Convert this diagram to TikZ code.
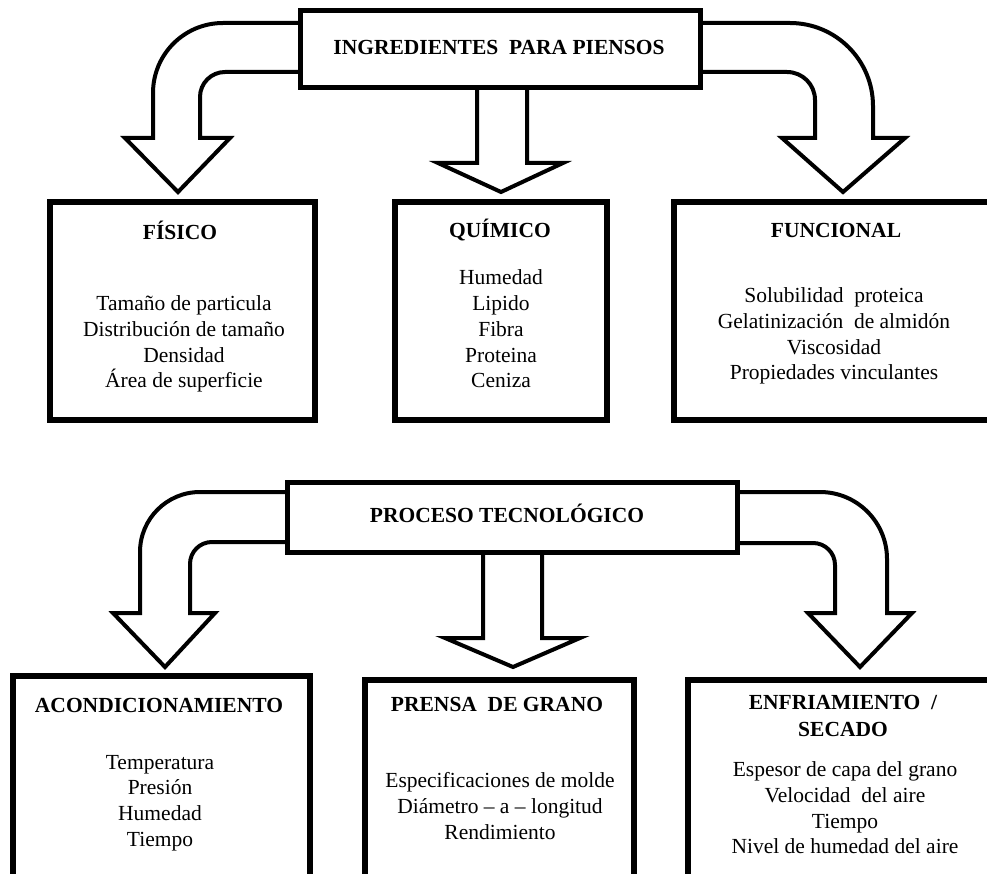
\documentclass[tikz,border=0pt]{standalone}
\usepackage{fontspec}
\setmainfont{Liberation Serif}
\begin{document}
\begin{tikzpicture}[x=1pt,y=-1pt,
  hbox/.style={draw=black, line width=5pt, fill=white, inner sep=0pt},
  box/.style={draw=black, line width=6pt, fill=white, inner sep=0pt},
  blockarrow/.style={draw=black, line width=4pt, fill=white, line join=miter},
  ttl/.style={font=\fontsize{21.5}{27}\selectfont\bfseries, align=center, inner sep=0pt},
  body/.style={font=\fontsize{21.5}{25.7}\selectfont, align=center, inner sep=0pt}]
\useasboundingbox (0,0) rectangle (987,874);
\clip (0,0) rectangle (987,874);
\fill[white] (0,0) rectangle (987,874);

% ---------- top block arrows ----------
\draw[blockarrow] (300,23) -- (223,23) .. controls (184.3,23) and (153,54.3) .. (153,93)
  -- (153,138) -- (125,138) -- (178,192) -- (230,138) -- (200,138) -- (200,97)
  .. controls (200,83.2) and (211.2,72) .. (225,72) -- (300,72);
\draw[blockarrow] (477,86) -- (477,163) -- (438,163) -- (501,192) -- (563,163) -- (527,163) -- (527,86);
\draw[blockarrow] (701,23) -- (790,23) .. controls (835.8,23) and (873,60.2) .. (873,106)
  -- (873,138) -- (905,138) -- (843,192) -- (782,138) -- (815,138) -- (815,100)
  .. controls (815,84.5) and (802.5,72) .. (787,72) -- (701,72);

% ---------- bottom block arrows ----------
\draw[blockarrow] (288,492) -- (200,492) .. controls (166.9,492) and (140,518.9) .. (140,552)
  -- (140,613) -- (113,613) -- (165,667) -- (215,613) -- (190,613) -- (190,564)
  .. controls (190,551.8) and (199.8,542) .. (212,542) -- (288,542);
\draw[blockarrow] (483,550) -- (483,638) -- (445,638) -- (513,667) -- (580,638) -- (542,638) -- (542,550);
\draw[blockarrow] (737,492) -- (820,492) .. controls (857,492) and (887,522) .. (887,559)
  -- (887,613) -- (912,613) -- (860,667) -- (808,613) -- (835,613) -- (835,565)
  .. controls (835,552.8) and (825.2,543) .. (813,543) -- (737,543);

% ---------- header boxes ----------
\node[hbox, minimum width=400pt, minimum height=77pt] (ing) at (500.5,49) {};
\node[ttl] (ingt) at (499,47) {INGREDIENTES~ PARA PIENSOS};

\node[hbox, minimum width=450pt, minimum height=70pt] (proc) at (512.5,517.5) {};
\node[ttl] (proct) at (507,513) {PROCESO TECNOLÓGICO};

% ---------- top row boxes ----------
\node[box, minimum width=265pt, minimum height=218pt] (fis) at (182.5,311) {};
\node[ttl] (fist) at (180,230) {FÍSICO};
\node[body] (fisb) at (184,344) {Tamaño de particula\\Distribución de tamaño\\Densidad\\Área de superficie};

\node[box, minimum width=212pt, minimum height=218pt] (qui) at (501,311) {};
\node[ttl] (quit) at (500,230) {QUÍMICO};
\node[body] (quib) at (501,329) {Humedad\\Lipido\\Fibra\\Proteina\\Ceniza};

\node[box, minimum width=336pt, minimum height=218pt] (fun) at (842,311) {};
\node[ttl] (funt) at (836,230) {FUNCIONAL};
\node[body] (funb) at (834,336) {Solubilidad~ proteica\\Gelatinización~ de almidón\\Viscosidad\\Propiedades vinculantes};

% ---------- bottom row boxes ----------
\node[box, minimum width=297pt, minimum height=224pt] (aco) at (161.5,788) {};
\node[ttl] (acot) at (159,705) {ACONDICIONAMIENTO};
\node[body] (acob) at (160,803) {Temperatura\\Presión\\Humedad\\Tiempo};

\node[box, minimum width=269pt, minimum height=220pt] (pre) at (499.5,790) {};
\node[ttl] (pret) at (497,704) {PRENSA~ DE GRANO};
\node[body] (preb) at (500,806) {Especificaciones de molde\\Diámetro – a – longitud\\Rendimiento};

\node[box, minimum width=322pt, minimum height=220pt] (enf) at (849,790) {};
\node[ttl] (enft) at (843,716) {ENFRIAMIENTO~ /\\SECADO};
\node[body] (enfb) at (845,808) {Espesor de capa del grano\\Velocidad~ del aire\\Tiempo\\Nivel de humedad del aire};
\end{tikzpicture}
\end{document}
